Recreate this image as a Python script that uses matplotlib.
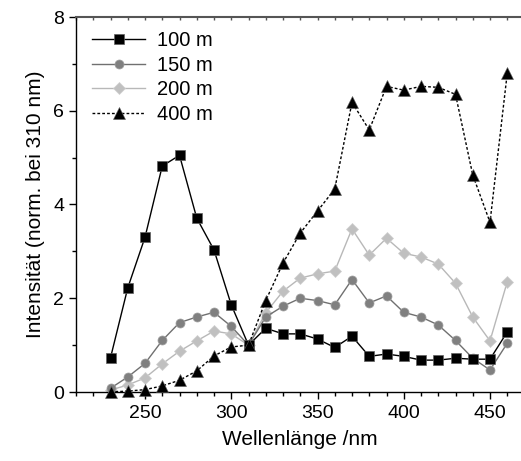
import matplotlib
matplotlib.use("Agg")
import matplotlib.pyplot as plt
from matplotlib.ticker import MultipleLocator

plt.rcParams['font.family'] = ['Liberation Sans', 'DejaVu Sans']

wavelength = [230, 240, 250, 260, 270, 280, 290, 300, 310, 320, 330, 340,
              350, 360, 370, 380, 390, 400, 410, 420, 430, 440, 450, 460]

s100 = [0.73, 2.22, 3.30, 4.82, 5.05, 3.71, 3.03, 1.86, 1.00, 1.36, 1.24, 1.24,
        1.13, 0.95, 1.19, 0.76, 0.81, 0.76, 0.68, 0.68, 0.72, 0.70, 0.70, 1.28]
s150 = [0.08, 0.32, 0.61, 1.10, 1.48, 1.60, 1.70, 1.40, 1.00, 1.60, 1.83, 2.00,
        1.95, 1.86, 2.40, 1.90, 2.05, 1.70, 1.60, 1.43, 1.10, 0.72, 0.47, 1.04]
s200 = [0.04, 0.15, 0.30, 0.60, 0.87, 1.09, 1.30, 1.24, 1.00, 1.69, 2.15, 2.43,
        2.52, 2.58, 3.48, 2.92, 3.28, 2.96, 2.88, 2.73, 2.32, 1.60, 1.09, 2.35]
s400 = [0.00, 0.02, 0.05, 0.13, 0.25, 0.45, 0.77, 0.96, 1.00, 1.95, 2.75, 3.39,
        3.86, 4.33, 6.18, 5.59, 6.52, 6.44, 6.52, 6.50, 6.35, 4.63, 3.62, 6.80]

labels = ['100 m', '150 m', '200 m', '400 m']

fig = plt.figure(figsize=(5.21, 4.61), dpi=100)
ax = fig.add_axes([76/521, 1-392/461, (524.5-76)/521, (392-17)/461])

ax.plot(wavelength, s100, '-', color='black', lw=1.0, marker='s', ms=6.5,
        mfc='black', mec='#606060', mew=0.5, label=labels[0], clip_on=False, zorder=4)
ax.plot(wavelength, s150, '-', color='#707070', lw=1.0, marker='o', ms=6.5,
        mfc='#808080', mec='#a0a0a0', mew=0.5, label=labels[1], clip_on=False, zorder=3)
ax.plot(wavelength, s200, '-', color='#b8b8b8', lw=1.0, marker='D', ms=6.5,
        mfc='#c0c0c0', mec='#d0d0d0', mew=0.5, label=labels[2], clip_on=False, zorder=2)
ax.plot(wavelength, s400, linestyle=(0, (2, 1.5)), color='black', lw=1.0, marker='^', ms=8,
        mfc='black', mec='#606060', mew=0.4, label=labels[3], clip_on=False, zorder=5)

ax.set_xlim(210, 470)
ax.set_ylim(0, 8)
ax.xaxis.set_major_locator(MultipleLocator(50))
ax.xaxis.set_minor_locator(MultipleLocator(10))
ax.yaxis.set_major_locator(MultipleLocator(2))
ax.yaxis.set_minor_locator(MultipleLocator(1))

ax.spines['right'].set_visible(False)
ax.spines['top'].set_color('#555555')
ax.spines['top'].set_linewidth(1.5)
ax.spines['left'].set_linewidth(1.0)
ax.spines['bottom'].set_linewidth(1.0)

ax.tick_params(axis='x', which='major', direction='out', length=5, width=1,
               labelsize=14, pad=4, top=False)
ax.tick_params(axis='x', which='minor', direction='out', length=3, width=1, top=False)
ax.tick_params(axis='y', which='major', direction='out', length=5, width=1, labelsize=14)
ax.tick_params(axis='y', which='minor', direction='out', length=3, width=1)
secx = ax.secondary_xaxis('top')
secx.xaxis.set_major_locator(MultipleLocator(10))
secx.tick_params(axis='x', which='major', direction='in', length=2, width=1,
                 labeltop=False, colors='#555555')
secx.spines['top'].set_visible(False)

ax.set_xlabel('Wellenlänge /nm', fontsize=15, labelpad=6)
ax.set_ylabel('Intensität (norm. bei 310 nm)', fontsize=15, labelpad=6)

leg = ax.legend(loc='upper left', frameon=False, fontsize=14.5, handlelength=2.6,
                borderaxespad=0.3, labelspacing=0.28, handletextpad=0.6,
                bbox_to_anchor=(0.005, 1.0))

fig.savefig('out.png', dpi=100)
